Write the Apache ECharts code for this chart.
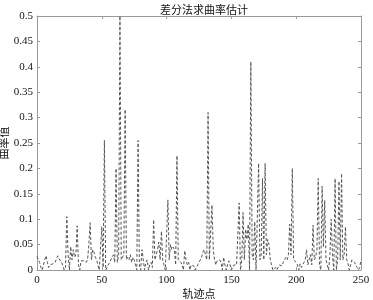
<!DOCTYPE html>
<html><head><meta charset="utf-8">
<script src="https://cdn.jsdelivr.net/npm/echarts@6/dist/echarts.min.js"></script>
<style>html,body{margin:0;padding:0;background:#fff}#c{width:373px;height:300px}</style>
</head><body><div id="c"></div>
<script>
var titleText = '差分法求曲率估计';
var xName = '轨迹点';
var yName = '曲率值';
var xTicks = [0, 50, 100, 150, 200, 250];
var yTicks = [0, 0.05, 0.1, 0.15, 0.2, 0.25, 0.3, 0.35, 0.4, 0.45, 0.5];
var curvature = [
0.027,0.028,0.015,0.005,0.0,0.01,0.02,0.028,0.015,0.005,
0.01,0.012,0.012,0.012,0.015,0.022,0.028,0.022,0.02,0.015,
0.008,0.0,0.005,0.105,0.03,0.0,0.046,0.02,0.04,0.025,
0.03,0.087,0.01,0.0,0.018,0.018,0.018,0.015,0.015,0.02,
0.05,0.093,0.02,0.04,0.035,0.025,0.02,0.01,0.0,0.0,
0.085,0.005,0.255,0.0,0.0,0.01,0.015,0.02,0.025,0.03,
0.015,0.2,0.015,0.03,0.5,0.02,0.02,0.03,0.316,0.02,
0.025,0.02,0.03,0.015,0.025,0.02,0.01,0.0,0.255,0.01,
0.0,0.04,0.02,0.0,0.015,0.02,0.0,0.01,0.015,0.005,
0.099,0.02,0.03,0.04,0.055,0.02,0.076,0.02,0.01,0.0,
0.0,0.138,0.02,0.05,0.04,0.045,0.04,0.01,0.225,0.02,
0.02,0.015,0.01,0.0,0.038,0.02,0.01,0.015,0.0,0.01,
0.01,0.008,0.0,0.005,0.01,0.015,0.015,0.025,0.035,0.04,
0.03,0.02,0.31,0.02,0.02,0.128,0.04,0.02,0.01,0.018,
0.02,0.02,0.015,0.0,0.025,0.01,0.0,0.01,0.018,0.01,
0.0,0.005,0.01,0.008,0.01,0.01,0.132,0.0,0.02,0.113,
0.02,0.08,0.06,0.09,0.0,0.41,0.03,0.02,0.095,0.0,
0.0,0.21,0.02,0.03,0.18,0.02,0.21,0.03,0.06,0.05,
0.02,0.01,0.0,0.0,0.005,0.0,0.005,0.01,0.012,0.008,
0.015,0.02,0.025,0.02,0.03,0.09,0.03,0.2,0.02,0.02,
0.015,0.01,0.0,0.012,0.005,0.01,0.015,0.02,0.04,0.01,
0.02,0.03,0.01,0.088,0.02,0.025,0.04,0.18,0.01,0.0,
0.165,0.045,0.137,0.02,0.01,0.0,0.03,0.1,0.03,0.0,
0.18,0.0,0.02,0.175,0.02,0.19,0.02,0.03,0.085,0.02,
0.012,0.0,0.01,0.02,0.018,0.015,0.01,0.005,0.0,0.005,
0.02
];
var pts = curvature.map(function(v, i){ return [i, v]; });
var serifFont = 'Liberation Serif';
var cjkFont = 'Noto Sans CJK SC';
var axisColor = '#9a9a9a';
function xAx(show, pos){
  return {type:'value', min:0, max:250, interval:50, position:pos,
    axisLine:{show:true, onZero:false, lineStyle:{color:axisColor, width:1}},
    axisTick:{show:true, inside:true, length:3, lineStyle:{color:axisColor}},
    axisLabel:{show:show, color:'#111', fontFamily:serifFont, fontSize:11, margin:5,
      formatter:function(v){ return xTicks.indexOf(v)>=0 ? String(v) : ''; }},
    splitLine:{show:false},
    name: show ? xName : '', nameLocation:'middle', nameGap:18, nameMoveOverlap:false,
    nameTextStyle:{color:'#111', fontFamily:cjkFont, fontSize:11}};
}
function yAx(show, pos){
  return {type:'value', min:0, max:0.5, interval:0.05, position:pos,
    axisLine:{show:true, onZero:false, lineStyle:{color:axisColor, width:1}},
    axisTick:{show:true, inside:true, length:3, lineStyle:{color:axisColor}},
    axisLabel:{show:show, color:'#111', fontFamily:serifFont, fontSize:11, margin:4,
      formatter:function(v){ var r = Math.round(v*100)/100; return String(r); }},
    splitLine:{show:false},
    name: show ? yName : '', nameLocation:'middle', nameGap:28, nameMoveOverlap:false,
    nameTextStyle:{color:'#111', fontFamily:cjkFont, fontSize:11}};
}
var chart = echarts.init(document.getElementById('c'), null, {renderer:'canvas'});
chart.setOption({
  animation:false,
  backgroundColor:'#fff',
  title:{text:titleText, left:199, textAlign:'center', top:-1,
    textStyle:{color:'#111', fontFamily:cjkFont, fontSize:11, fontWeight:'normal'}},
  grid:{left:37, right:12, top:16, bottom:30, containLabel:false, outerBoundsMode:'none'},
  xAxis:[xAx(true,'bottom'), xAx(false,'top')],
  yAxis:[yAx(true,'left'), yAx(false,'right')],
  series:[{type:'line', data:pts, xAxisIndex:0, yAxisIndex:0, showSymbol:false, symbol:'none',
    clip:true,
    lineStyle:{color:'#555', width:1, type:[3,2]}}]
});
</script></body></html>
